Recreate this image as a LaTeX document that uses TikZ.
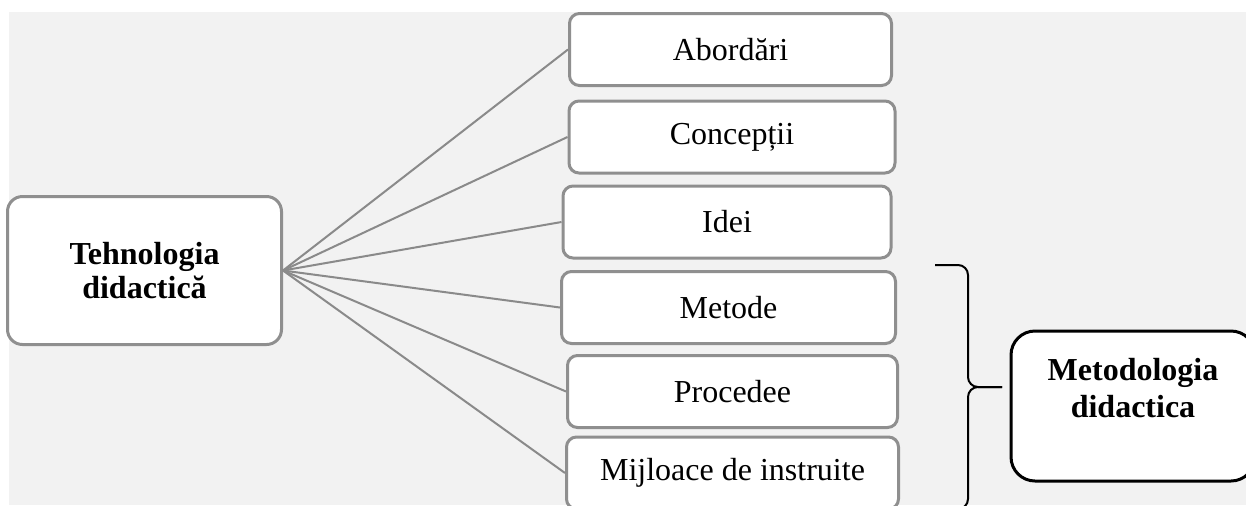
\documentclass[tikz,border=0pt]{standalone}
\usepackage{fontspec}
\setmainfont{Liberation Serif}
\definecolor{boxgray}{HTML}{8F8F8F}
\definecolor{linegray}{HTML}{8A8A8A}
\definecolor{backgray}{HTML}{F2F2F2}
\begin{document}
\begin{tikzpicture}[x=0.5pt, y=-0.5pt,
  every node/.style={font=\fontsize{16}{18.5}\selectfont, align=center, inner sep=0pt},
  item/.style={draw=boxgray, line width=1.5pt, fill=white, rounded corners=5pt, minimum height=36pt},
  main/.style={draw=boxgray, line width=1.5pt, fill=white, rounded corners=7.5pt, font=\fontsize{16}{17}\selectfont\bfseries},
  link/.style={draw=linegray, line width=1pt}]
\useasboundingbox (0,0) rectangle (1246,505);
% background
\fill[backgray] (9,12) rectangle (1246,505);
% left box
\node[main, minimum width=137pt, minimum height=74pt] (tehno) at (144.5,270.5) {Tehnologia\\didactică};
% right boxes
\node[item, minimum width=161pt] (abord) at (730.5,49.5) {Abordări};
\node[item, minimum width=163pt] (concep) at (732,137) {Concepții};
\node[item, minimum width=164pt] (idei) at (727,222) {Idei};
\node[item, minimum width=167pt] (metode) at (728.5,307.5) {Metode};
\node[item, minimum width=165pt] (proced) at (732.5,391.5) {Procedee};
\node[item, minimum width=166pt] (mijl) at (732.5,473) {Mijloace de instruite};
% connectors
\foreach \b in {abord,concep,idei,metode,proced,mijl}
  \draw[link] (tehno.east) -- (\b.west);
% brace
\draw[line width=1pt, rounded corners=5pt] (935,265) -- (968,265) -- (968,387) -- (1002,387);
\draw[line width=1pt, rounded corners=5pt] (1002,387) -- (968,387) -- (968,509) -- (935,509);
% right box
\node[draw=black, line width=1.5pt, fill=white, rounded corners=12pt, minimum width=122pt, minimum height=75pt, font=\fontsize{16}{18.5}\selectfont\bfseries] (metodol) at (1133,406) {Metodologia\\didactica\\\mbox{}};
\end{tikzpicture}
\end{document}
